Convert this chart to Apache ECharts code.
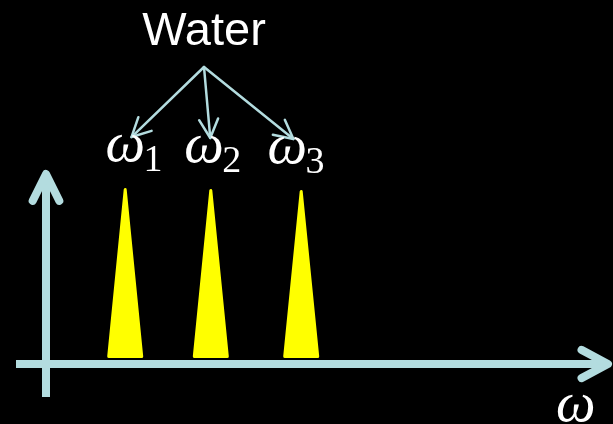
<!DOCTYPE html>
<html>
<head>
<meta charset="utf-8">
<style>
  html, body { margin: 0; padding: 0; background: #000; }
  #main { width: 613px; height: 424px; }
</style>
<script src="https://cdn.jsdelivr.net/npm/echarts@6/dist/echarts.min.js"></script>
</head>
<body>
<div id="main"></div>
<script>
// 数据：三个共振峰的位置、高度和下标
const peakIndex = ['1', '2', '3'];
const peakPos = [0.99, 2.06, 3.19];
const peakHeight = [0.907, 0.902, 0.897];
const sourceName = 'Water';
const xAxisName = 'ω';

const axisColor = '#b3dcdf';
const peakColor = '#ffff00';
const serif = '"Liberation Serif", "DejaVu Serif", serif';

let myChart = echarts.init(document.getElementById('main'));

// 箭头起点（"Water" 下方）
const src = [204, 67];

function chevron(tip, from, len, ang) {
    // 开口箭头：从 tip 往 from 方向张开两翼
    const a = Math.atan2(from[1] - tip[1], from[0] - tip[0]);
    return [
        [tip[0] + len * Math.cos(a + ang), tip[1] + len * Math.sin(a + ang)],
        tip,
        [tip[0] + len * Math.cos(a - ang), tip[1] + len * Math.sin(a - ang)]
    ];
}

let option = {
    backgroundColor: '#000',
    animation: false,
    grid: { left: 16, right: 1, top: 170, bottom: 27 },
    xAxis: { type: 'value', min: -0.375, max: 7.075, show: false },
    yAxis: { type: 'value', min: -0.17, max: 1, show: false },
    series: [{
        type: 'custom',
        clip: false,
        data: peakPos.map((p, i) => [p, peakHeight[i], i]),
        renderItem: function (params, api) {
            const base = api.coord([api.value(0), 0]);
            const tip = api.coord([api.value(0), api.value(1)]);
            const i = api.value(2);
            const cx = base[0];
            const halfW = 16.5;
            const by = base[1] - 7.5;
            const labelTop = tip[1] - 51;
            const arrowTip = [cx + (src[0] - cx) * 0.08, labelTop];
            return {
                type: 'group',
                children: [
                    {
                        type: 'polygon',
                        shape: { points: [[cx - halfW, by], [cx + halfW, by], [cx, tip[1] + 1.5]] },
                        style: { fill: peakColor, stroke: peakColor, lineWidth: 3, lineJoin: 'round' }
                    },
                    {
                        type: 'line',
                        shape: { x1: src[0], y1: src[1], x2: arrowTip[0], y2: arrowTip[1] },
                        style: { stroke: axisColor, lineWidth: 2.5, lineCap: 'round' }
                    },
                    {
                        type: 'polyline',
                        shape: { points: chevron(arrowTip, src, 21, 0.47) },
                        style: { stroke: axisColor, fill: null, lineWidth: 2.5, lineCap: 'round', lineJoin: 'round' }
                    },
                    {
                        type: 'text',
                        x: arrowTip[0] - 26, y: labelTop + 37,
                        style: {
                            text: 'ω', fill: '#fff', font: 'italic 56px ' + serif,
                            textAlign: 'left', textVerticalAlign: 'bottom'
                        }
                    },
                    {
                        type: 'text',
                        x: arrowTip[0] + 12, y: labelTop + 43,
                        style: {
                            text: peakIndex[i], fill: '#fff', font: '38px ' + serif,
                            textAlign: 'left', textVerticalAlign: 'bottom'
                        }
                    }
                ]
            };
        }
    }]
};
myChart.setOption(option);

// 坐标轴（带箭头，交于原点）
const o = myChart.convertToPixel({ gridIndex: 0 }, [0, 0]);
const xEnd = myChart.convertToPixel({ gridIndex: 0 }, [7.075, 0]);
const xStart = myChart.convertToPixel({ gridIndex: 0 }, [-0.375, 0]);
const yEnd = myChart.convertToPixel({ gridIndex: 0 }, [0, 1]);
const yStart = myChart.convertToPixel({ gridIndex: 0 }, [0, -0.17]);
const xTip = [xEnd[0] - 4, o[1]];
const yTip = [o[0], yEnd[1] + 4];

myChart.setOption({
    graphic: [
        { type: 'line', shape: { x1: xStart[0], y1: o[1], x2: xTip[0], y2: o[1] },
          style: { stroke: axisColor, lineWidth: 8 } },
        { type: 'polyline', shape: { points: chevron(xTip, xStart, 30, 0.49) },
          style: { stroke: axisColor, fill: null, lineWidth: 8, lineCap: 'round', lineJoin: 'round' } },
        { type: 'line', shape: { x1: o[0], y1: yStart[1], x2: o[0], y2: yTip[1] },
          style: { stroke: axisColor, lineWidth: 8 } },
        { type: 'polyline', shape: { points: chevron(yTip, yStart, 30, 0.46) },
          style: { stroke: axisColor, fill: null, lineWidth: 8, lineCap: 'round', lineJoin: 'round' } },
        { type: 'text', x: src[0], y: 32,
          style: { text: sourceName, fill: '#fff', font: '47px "Liberation Sans", Arial, sans-serif',
                   textAlign: 'center', textVerticalAlign: 'middle' } },
        { type: 'text', x: 556, y: 434,
          style: { text: xAxisName, fill: '#fff', font: 'italic 56px ' + serif,
                   textAlign: 'left', textVerticalAlign: 'bottom' } }
    ]
});

window.addEventListener('resize', function () {
    myChart.resize();
});
</script>
</body>
</html>
